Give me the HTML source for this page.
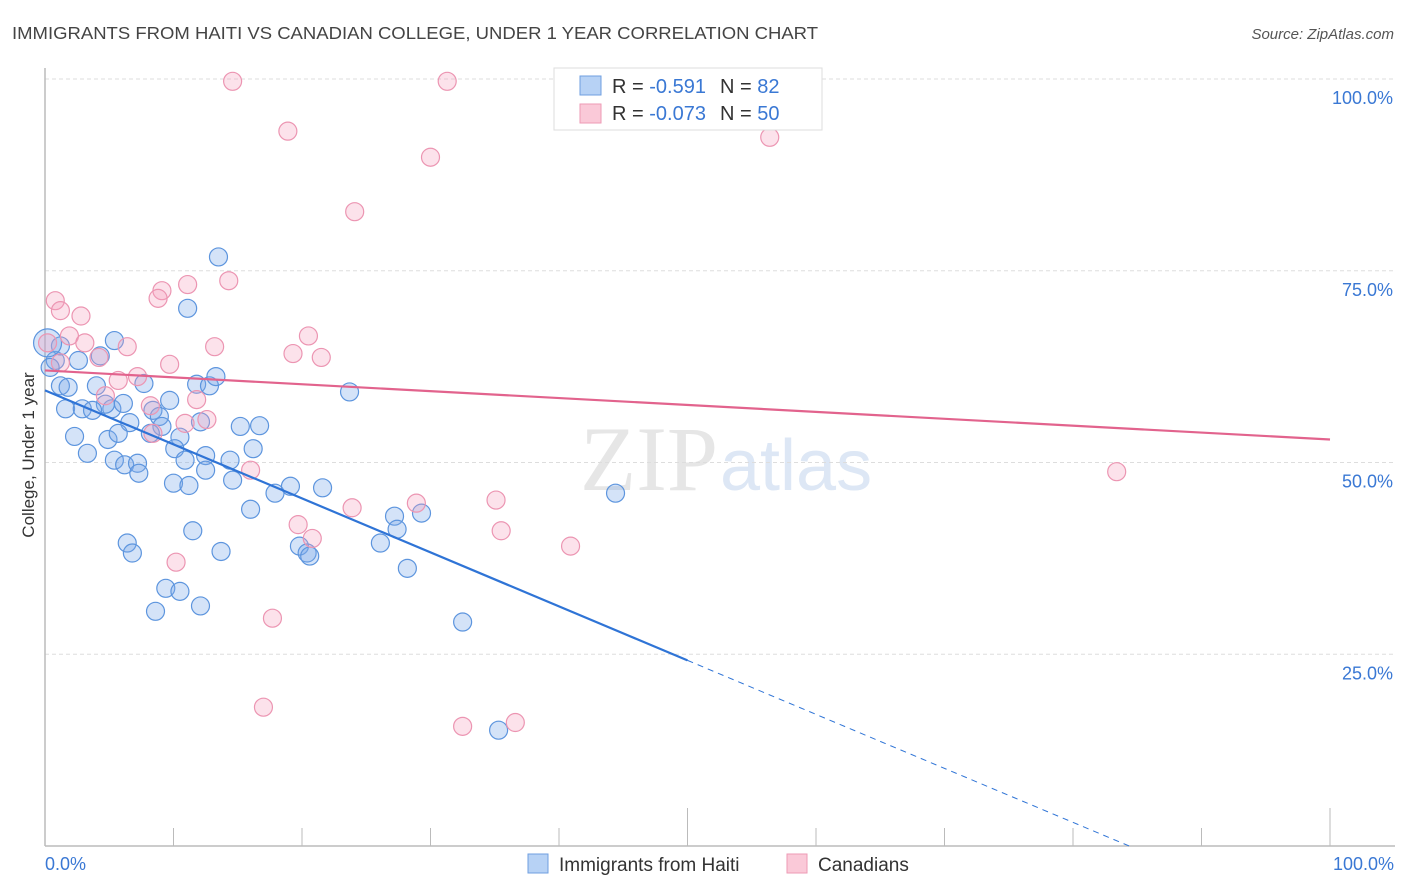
<!DOCTYPE html>
<html><head><meta charset="utf-8"><style>
body{margin:0;background:#fff;font-family:"Liberation Sans",sans-serif;}
svg{display:block}
</style></head><body>
<svg width="1406" height="892" id="chart" xmlns="http://www.w3.org/2000/svg">
<text x="12" y="39" font-size="17.5" fill="#444" textLength="806" lengthAdjust="spacingAndGlyphs">IMMIGRANTS FROM HAITI VS CANADIAN COLLEGE, UNDER 1 YEAR CORRELATION CHART</text>
<text x="1394" y="39" font-size="15" fill="#555" font-style="italic" text-anchor="end">Source: ZipAtlas.com</text>
<text x="718" y="490" font-size="92" fill="#e6e6e6" text-anchor="end" font-family="Liberation Serif,serif">ZIP</text>
<text x="720" y="490" font-size="72" fill="#dde7f5">atlas</text>
<text transform="translate(34,455) rotate(-90)" font-size="17" fill="#333" text-anchor="middle">College, Under 1 year</text>
<g id="grid"></g><g id="pts"></g><g id="lines"></g>
<g>
<rect x="554" y="68" width="268" height="62" fill="#fff" stroke="#ddd"/>
<rect x="580" y="76" width="21" height="19" fill="#b7d2f5" stroke="#6f9fe0"/>
<rect x="580" y="104" width="21" height="19" fill="#fac9d8" stroke="#ee9ab5"/>
<text x="612" y="93" font-size="20" fill="#333">R = <tspan fill="#3a78d4"> -0.591</tspan><tspan dx="14">N = </tspan><tspan fill="#3a78d4"> 82</tspan></text>
<text x="612" y="120" font-size="20" fill="#333">R = <tspan fill="#3a78d4">-0.073</tspan><tspan dx="14">N = </tspan><tspan fill="#3a78d4">50</tspan></text>
</g>
<text x="45" y="870" font-size="18" fill="#3a78d4">0.0%</text>
<text x="1394" y="870" font-size="18" fill="#3a78d4" text-anchor="end">100.0%</text>
<rect x="528" y="854" width="20" height="19" fill="#b7d2f5" stroke="#6f9fe0"/>
<text x="559" y="871" font-size="19" fill="#333">Immigrants from Haiti</text>
<rect x="787" y="854" width="20" height="19" fill="#fac9d8" stroke="#ee9ab5"/>
<text x="818" y="871" font-size="19" fill="#333">Canadians</text>
</svg>
<script>
const blueX=[13.5,11.1,5.4,4.3,2.6,0.8,0.4,1.2,1.8,4.0,7.7,11.8,12.8,13.3,23.7,1.6,2.9,5.2,6.1,8.4,6.6,8.9,9.1,12.1,15.2,16.7,2.3,4.9,5.7,10.5,8.2,10.1,10.9,12.5,14.4,16.2,3.3,5.4,6.2,7.2,7.3,10.0,11.2,12.5,14.6,17.9,19.1,21.6,16.0,27.2,27.4,29.3,44.4,11.5,13.7,6.4,6.8,19.8,20.4,20.6,26.1,28.2,9.4,10.5,8.6,12.1,32.5,35.3,1.2,0.2,4.7,3.7,9.7];
const blueY=[76.8,70.1,65.9,63.9,63.3,63.3,62.4,60.0,59.8,60.0,60.3,60.2,60.0,61.2,59.2,57.0,57.0,57.0,57.7,56.8,55.2,56.0,54.7,55.3,54.7,54.8,53.4,53.0,53.8,53.3,53.8,51.8,50.3,50.9,50.3,51.8,51.2,50.3,49.7,49.9,48.6,47.3,47.0,49.0,47.7,46.0,46.9,46.7,43.9,43.0,41.3,43.4,46.0,41.1,38.4,39.5,38.2,39.1,38.2,37.8,39.5,36.2,33.6,33.2,30.6,31.3,29.2,15.1,65.2,65.6,57.6,56.8,58.1];
const pinkX=[14.6,31.3,47.5,18.9,30.0,56.4,24.1,0.8,1.2,2.8,11.1,9.1,8.8,14.3,13.2,6.4,1.9,3.1,0.2,4.2,5.7,7.2,9.7,19.3,20.5,21.5,11.8,12.6,8.2,8.4,10.9,4.7,16.0,23.9,28.9,35.1,35.5,40.9,19.7,20.8,10.2,17.7,17.0,32.5,36.6,83.4,1.2];
const pinkY=[99.7,99.7,99.7,93.2,89.8,92.4,82.7,71.1,69.8,69.1,73.2,72.4,71.4,73.7,65.1,65.1,66.5,65.6,65.6,63.7,60.7,61.2,62.8,64.2,66.5,63.7,58.2,55.6,57.4,53.8,55.1,58.7,49.0,44.1,44.7,45.1,41.1,39.1,41.9,40.1,37.0,29.7,18.1,15.6,16.1,48.8,63.0];
const blueTrend=[59.4,-0.704];
const pinkTrend=[62.0,-0.09];
const yTicks=[25,50,75,100];
const yTickLabels=["25.0%","50.0%","75.0%","100.0%"];
const xTicks=[0,10,20,30,40,50,60,70,80,90,100];

const NS="http://www.w3.org/2000/svg";
const X=v=>45+v*12.85, Y=v=>846-v*7.67;
function mk(tag,attrs,parent){const e=document.createElementNS(NS,tag);for(const k in attrs)e.setAttribute(k,attrs[k]);parent.appendChild(e);return e;}
const grid=document.getElementById('grid'),pts=document.getElementById('pts'),lines=document.getElementById('lines');
yTicks.forEach((t,i)=>{
 const l=mk('line',{x1:45,x2:1393,y1:Y(t),y2:Y(t),stroke:'#ddd','stroke-dasharray':'4,3'},grid);
 
 
 const tx=mk('text',{x:1393,y:Y(t)+25,'font-size':18,fill:'#3a78d4','text-anchor':'end'},grid);
 tx.textContent=yTickLabels[i];
 
 
});
const ax=mk('line',{x1:45,x2:1395,y1:846,y2:846,stroke:'#bbb','stroke-width':1.5},grid);


const ay=mk('line',{x1:45,x2:45,y1:68,y2:846,stroke:'#bbb','stroke-width':1.5},grid);


xTicks.forEach(t=>{
 const major=(t===50||t===100);
 const l=mk('line',{x1:X(t),x2:X(t),y1:major?808:828,y2:846,stroke:'#bbb'},grid);
 
 
});
blueX.forEach((x,i)=>{
 const c=mk('circle',{cx:X(x),cy:Y(blueY[i]),r:(x<0.5&&blueY[i]>65)?14:9,fill:'rgba(120,168,232,0.32)',stroke:'#5d95de','stroke-width':1.2},pts);
 
 
});
pinkX.forEach((x,i)=>{
 const c=mk('circle',{cx:X(x),cy:Y(pinkY[i]),r:9,fill:'rgba(244,160,188,0.3)',stroke:'#ec95b2','stroke-width':1.2},pts);
 
 
});
const bz=-blueTrend[0]/blueTrend[1];
const b1=mk('line',{x1:X(0),y1:Y(blueTrend[0]),x2:X(50),y2:Y(blueTrend[0]+blueTrend[1]*50),stroke:'#2f74d6','stroke-width':2.2},lines);


const b2=mk('line',{x1:X(50),y1:Y(blueTrend[0]+blueTrend[1]*50),x2:X(bz),y2:Y(0),stroke:'#2f74d6','stroke-width':1,'stroke-dasharray':'6,5'},lines);


const p1=mk('line',{x1:X(0),y1:Y(pinkTrend[0]),x2:X(100),y2:Y(pinkTrend[0]+pinkTrend[1]*100),stroke:'#e2638d','stroke-width':2.2},lines);


</script>
</body></html>
